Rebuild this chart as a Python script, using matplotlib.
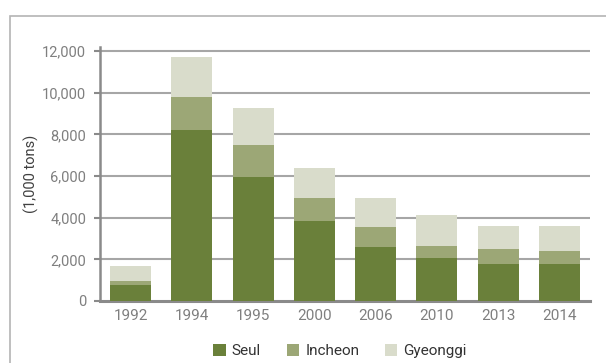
import matplotlib.pyplot as plt
from matplotlib.patches import Rectangle
import numpy as np

plt.rcParams['font.family'] = ['Roboto', 'DejaVu Sans']

years = ["1992", "1994", "1995", "2000", "2006", "2010", "2013", "2014"]
seul = [760, 8220, 5970, 3840, 2590, 2060, 1770, 1770]
incheon = [200, 1580, 1520, 1110, 960, 580, 720, 630]
gyeonggi = [720, 1930, 1780, 1440, 1400, 1490, 1110, 1200]

colors = {"Seul": "#6a803a", "Incheon": "#9ca776", "Gyeonggi": "#d9dccb"}

fig = plt.figure(figsize=(6.06, 3.63), dpi=100)
ax = fig.add_axes([100 / 606, 62 / 363, 490 / 606, 254 / 363])

# outer frame
fig.patches.append(Rectangle((10 / 606, -0.1), 1.0, (363 - 16) / 363 + 0.1,
                             transform=fig.transFigure, fill=False,
                             edgecolor="#b4b4b4", linewidth=1.2))

x = np.arange(len(years))
w = 0.67
s = np.array(seul)
i = np.array(incheon)
g = np.array(gyeonggi)
ax.bar(x, s, w, color=colors["Seul"], label="Seul", zorder=3)
ax.bar(x, i, w, bottom=s, color=colors["Incheon"], label="Incheon", zorder=3)
ax.bar(x, g, w, bottom=s + i, color=colors["Gyeonggi"], label="Gyeonggi", zorder=3)

ax.set_xlim(-0.5, len(years) - 0.5)
ax.set_ylim(0, 12200)
ax.set_yticks(range(0, 12001, 2000))
ax.set_yticklabels([f"{v:,}" for v in range(0, 12001, 2000)])
ax.set_xticks(x)
ax.set_xticklabels(years)

for v in range(2000, 12001, 2000):
    ax.axhline(v, color="#a6a6a6", linewidth=1.5, zorder=1)

for side in ["top", "right"]:
    ax.spines[side].set_visible(False)
ax.spines["left"].set_color("#8a8a8a")
ax.spines["left"].set_linewidth(1.8)
ax.spines["bottom"].set_color("#8a8a8a")
ax.spines["bottom"].set_linewidth(2.2)

ax.tick_params(axis="y", direction="out", length=4, width=1.5, color="#8a8a8a",
               labelsize=10.5, labelcolor="#7f7f7f", pad=6)
ax.tick_params(axis="x", length=0, labelsize=11, labelcolor="#7f7f7f", pad=6)

ax.set_ylabel("(1,000 tons)", fontsize=10.5, color="#404040", labelpad=2)

ax.legend(loc="upper center", bbox_to_anchor=(0.49, -0.115), ncol=3, frameon=False,
          fontsize=11, handlelength=0.8, handleheight=0.8, handletextpad=0.4,
          columnspacing=1.7, labelcolor="#333333")

fig.savefig("out.png", dpi=100)
